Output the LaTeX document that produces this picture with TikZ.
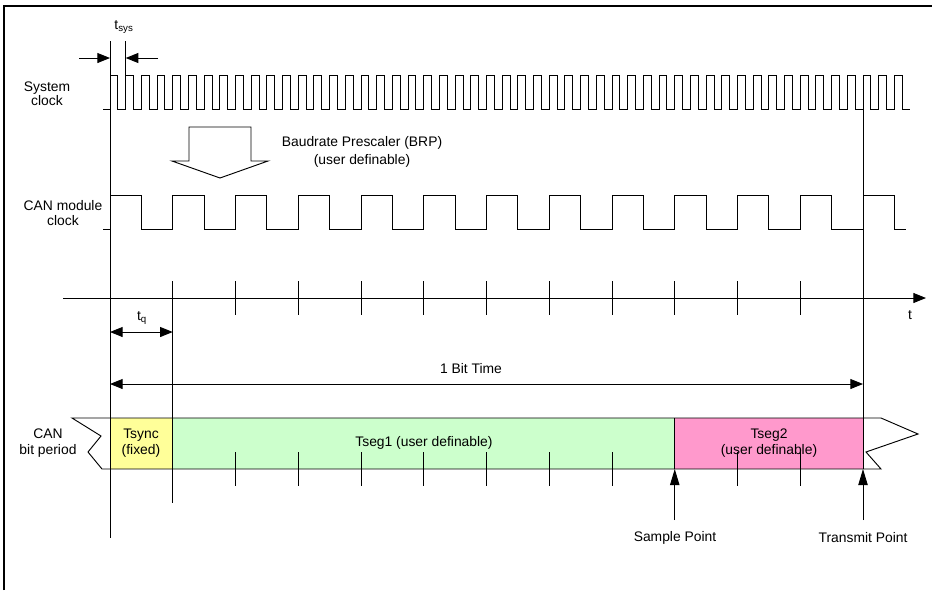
\documentclass[tikz,border=0pt]{standalone}
\usepackage{fontspec}
\setmainfont{Liberation Sans}
\usetikzlibrary{arrows.meta}
\definecolor{tsyncc}{HTML}{FFFF99}
\definecolor{tsegonec}{HTML}{CCFFCC}
\definecolor{tsegtwoc}{HTML}{FF99CC}
\begin{document}
\begin{tikzpicture}[x=0.75pt,y=-0.75pt,
  font=\fontsize{10.4}{12}\selectfont,
  wire/.style={line width=0.7pt},
  frame/.style={line width=1.1pt},
  tip/.style={line width=0.7pt,-{Triangle[length=9.5pt,width=7.5pt]}},
  dtip/.style={line width=0.7pt,{Triangle[length=9.5pt,width=7.5pt]}-{Triangle[length=9.5pt,width=7.5pt]}},
  ptip/.style={line width=0.7pt,-{Triangle[length=12pt,width=7pt]}},
  lbl/.style={inner sep=0pt,align=center},
  twoline/.style={lbl,font=\fontsize{10.4}{12.5}\selectfont}]
\useasboundingbox (0,0) rectangle (932,590);

% frame
\draw[frame] (4,590) -- (4,6) -- (932,6);

% bit period box fills
\fill[tsyncc] (110,418) rectangle (172.75,469);
\fill[tsegonec] (172.75,418) rectangle (674.75,469);
\fill[tsegtwoc] (674.75,418) rectangle (863,469);
\draw[wire] (72,418) -- (881,418) -- (918,434) -- (866,452) -- (881,469)
  -- (102,469) -- (88,452) -- (101,436) -- cycle;
\draw[wire] (674.75,418) -- (674.75,469);

% main vertical lines
\draw[wire] (110,41) -- (110,538);
\draw[wire] (125.69,41) -- (125.69,109);
\draw[wire] (172.75,281) -- (172.75,503);
\draw[wire] (863,109) -- (863,469);

% system clock
\draw[wire] (103,109) foreach \k in {0,...,50} {
  -- ({110+15.6875*\k},109) -- ++(0,-34) -- ++(7.85,0) -- ++(0,34) } -- (910,109);

% CAN module clock
\draw[wire] (103,229) foreach \k in {0,...,12} {
  -- ({110+62.75*\k},229) -- ++(0,-34) -- ++(31.4,0) -- ++(0,34) } -- (906,229);

% BRP hollow arrow
\draw[wire,fill=white] (189,127) -- (251,127) -- (251,161) -- (268,161) -- (220,178)
  -- (172,161) -- (189,161) -- cycle;
\node[twoline,font=\fontsize{10.4}{13.5}\selectfont] (brp) at (362,152)
  {Baudrate Prescaler (BRP)\\(user definable)};

% time axis
\coordinate (axL) at (63,298);
\coordinate (axR) at (926,298);
\draw[tip] (axL) -- (axR);
\node[lbl] (tlab) at (910,315) {t};
\foreach \i in {2,...,11}
  \draw[wire] ({110+62.75*\i},281) -- ({110+62.75*\i},315);

% box ticks
\foreach \i in {2,...,8,10,11}
  \draw[wire] ({110+62.75*\i},452) -- ({110+62.75*\i},486);

% t_sys
\coordinate (tsA) at (79,58);
\coordinate (tsB) at (110,58);
\coordinate (tsC) at (158,58);
\coordinate (tsD) at (125.69,58);
\draw[tip] (tsA) -- (tsB);
\draw[tip] (tsC) -- (tsD);
\node[lbl] (tsys) at (124,27) {t\textsubscript{sys}};

% t_q
\coordinate (tqA) at (110,332);
\coordinate (tqB) at (172.75,332);
\draw[dtip] (tqA) -- (tqB);
\node[lbl] (tq) at (142,318) {t\textsubscript{q}};

% 1 bit time
\coordinate (btA) at (110,384);
\coordinate (btB) at (863,384);
\draw[dtip] (btA) -- (btB);
\node[lbl] (bt) at (471,369) {1 Bit Time};

% labels on the left
\node[lbl,font=\fontsize{10.4}{10.8}\selectfont] (sysclk) at (47,94) {System\\clock};
\node[lbl,font=\fontsize{10.4}{11.4}\selectfont] (canclk) at (63,213) {CAN module\\clock};
\node[twoline] (canbit) at (48,443) {CAN\\bit period};

% segment texts
\node[twoline] (tsync) at (141,443) {Tsync\\(fixed)};
\node[lbl] (tseg1) at (424,443) {Tseg1 (user definable)};
\node[twoline] (tseg2) at (769,443) {Tseg2\\(user definable)};

% sample / transmit points
\coordinate (spA) at (674.75,520);
\coordinate (spB) at (674.75,469);
\coordinate (tpA) at (863,520);
\coordinate (tpB) at (863,469);
\draw[ptip] (spA) -- (spB);
\draw[ptip] (tpA) -- (tpB);
\node[lbl] (splab) at (675,538) {Sample Point};
\node[lbl] (tplab) at (863,538) {Transmit Point};
\end{tikzpicture}
\end{document}
